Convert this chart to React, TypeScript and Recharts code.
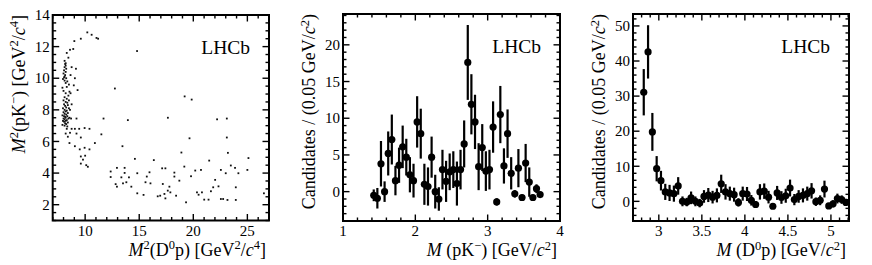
import React from 'react';
import { ScatterChart, Scatter, XAxis, YAxis, ErrorBar, ReferenceArea, Label } from 'recharts';

const FONT = "'Liberation Serif', 'DejaVu Serif', serif";

// Left panel: Dalitz plot, [M2(D0p), M2(pK-)] in GeV2/c4
const DALITZ_POINTS: [number, number][] = [
  // upper arc
  [8.6, 11.8], [8.9, 11.85], [8.3, 11.6], [9.0, 12.35], [9.6, 12.5], [10.2, 12.9], [10.6, 12.75],
  [11.05, 12.55], [11.2, 12.5], [8.45, 11.3], [8.1, 11.1], [8.2, 10.95],
  // dense column
  [8.15, 10.9], [8.2, 10.8], [8.1, 10.7], [8.25, 10.6], [8.05, 10.5], [8.2, 10.4], [8.0, 10.3],
  [8.15, 10.2], [8.1, 10.1], [8.05, 10.05], [8.25, 10.0], [7.95, 9.95], [8.1, 9.85], [8.35, 9.8],
  [8.2, 9.7], [8.75, 10.7], [9.15, 10.6], [8.65, 10.2], [9.05, 10.0], [8.5, 9.6], [8.95, 9.55],
  [9.3, 9.25], [8.3, 9.45], [7.9, 9.4], [8.2, 9.05], [8.55, 9.15], [8.0, 9.2], [8.45, 8.9],
  [8.1, 8.8], [8.3, 8.7], [8.0, 8.6], [8.2, 8.5], [8.35, 8.45], [8.05, 8.35], [8.4, 8.3],
  [8.15, 8.25], [8.25, 8.15], [7.95, 8.1], [8.5, 8.1], [8.1, 8.0], [8.3, 7.95], [8.2, 7.9],
  [8.0, 7.85], [8.4, 7.8], [8.1, 7.75], [8.25, 7.7], [7.9, 7.65], [8.05, 7.6], [8.35, 7.6],
  [8.15, 7.55], [8.2, 7.5], [8.0, 7.45], [8.45, 7.45], [8.1, 7.4], [8.3, 7.35], [7.95, 7.3],
  [8.2, 7.3], [8.05, 7.25], [8.4, 7.2], [8.15, 7.15], [8.25, 7.1], [7.9, 7.05], [8.1, 7.0],
  [8.35, 6.95], [8.55, 7.5], [8.7, 7.45], [9.2, 7.45], [8.6, 8.0], [8.75, 8.35], [8.5, 8.6],
  [8.65, 9.05],
  // lower part of the column
  [8.3, 6.8], [8.75, 6.8], [9.05, 6.8], [9.45, 6.8], [9.95, 6.85], [10.4, 6.8], [8.2, 6.5],
  [8.6, 6.55], [9.2, 6.5], [9.6, 6.25], [8.4, 6.3], [8.55, 5.9], [9.05, 5.7], [9.5, 5.5],
  [9.95, 5.6], [10.4, 5.5], [10.9, 5.9], [9.6, 5.05], [10.0, 5.1], [9.8, 4.85], [9.6, 4.6],
  [10.1, 4.5], [10.25, 4.4], [11.5, 6.45], [11.7, 7.45],
  // sparse middle
  [12.75, 9.35], [14.8, 11.72], [13.95, 7.35], [17.65, 7.5], [19.2, 8.85], [19.85, 8.65],
  [19.65, 6.2], [22.2, 7.4], [23.1, 7.45], [23.1, 6.25], [13.45, 5.7], [14.6, 4.9], [16.35, 4.82],
  [18.9, 5.3], [23.2, 5.28], [25.1, 4.95],
  // lower band
  [12.36, 4.1], [12.36, 3.75], [12.94, 4.33], [12.82, 3.3], [12.94, 3.14], [13.35, 3.73],
  [13.65, 4.01], [13.65, 4.33], [13.81, 3.42], [14.05, 3.73], [14.27, 3.14], [13.5, 3.35],
  [14.82, 3.99], [14.82, 2.72], [15.4, 2.62], [15.58, 3.42], [15.7, 3.78], [15.95, 4.05],
  [16.04, 3.35], [16.71, 2.53], [16.94, 2.57], [17.12, 4.3], [17.18, 3.31], [17.33, 2.68],
  [17.42, 4.3], [17.42, 2.4], [17.64, 2.89], [17.79, 3.14], [17.88, 2.78], [18.25, 4.03],
  [18.25, 3.78], [18.41, 2.57], [18.71, 3.52], [19.17, 4.41], [19.33, 2.15], [19.79, 3.8],
  [20.18, 4.16], [20.34, 2.78], [20.49, 2.63], [20.71, 4.2], [20.8, 2.78], [21.01, 2.32],
  [21.41, 2.32], [21.47, 4.79], [21.63, 2.85], [21.84, 3.1], [22.02, 3.57], [22.33, 3.16],
  [22.55, 4.2], [22.55, 2.36], [22.76, 2.36], [23.0, 3.99], [23.16, 2.3], [23.47, 4.48],
  [23.86, 4.33], [23.93, 2.3], [23.93, 3.1], [24.17, 3.99], [25.0, 4.2], [26.53, 2.72],
];

// Middle panel: M(pK-) bins [GeV/c2]
const PK_MASS = [
  1.425, 1.475, 1.525, 1.575, 1.625, 1.675, 1.725, 1.775, 1.825, 1.875, 1.925, 1.975,
  2.025, 2.075, 2.125, 2.175, 2.225, 2.275, 2.325, 2.375, 2.425, 2.475, 2.525, 2.575,
  2.625, 2.675, 2.725, 2.775, 2.825, 2.875, 2.925, 2.975, 3.025, 3.075, 3.125, 3.175,
  3.225, 3.275, 3.325, 3.375, 3.425, 3.475, 3.525, 3.575, 3.625, 3.675, 3.725,
];
const PK_COUNTS = [
  -0.5, -0.9, 3.8, 0.0, 5.2, 7.1, 1.5, 3.6, 6.1, 4.7, 2.3, 1.5,
  9.5, 7.9, 1.0, 0.7, 4.7, 0.0, -1.0, 3.0, 1.4, 2.7, 3.0, 1.1,
  3.0, 6.5, 17.6, 11.9, 9.5, 3.4, 6.0, 2.8, 3.0, 8.8, -1.4, 10.5,
  3.5, 7.9, 2.5, -0.3, 3.2, -0.8, 3.9, 1.3, -0.8, 0.4, -0.4,
];
const PK_ERRORS = [
  0.8, 1.4, 3.1, 1.4, 3.0, 3.4, 2.0, 2.4, 2.9, 2.5, 2.4, 2.3,
  3.5, 3.4, 2.8, 2.6, 2.8, 2.3, 1.6, 2.7, 2.8, 2.5, 2.5, 3.0,
  2.7, 3.2, 5.1, 4.1, 3.7, 3.2, 3.2, 2.7, 2.7, 3.5, 0.5, 3.9,
  2.4, 3.3, 2.2, 0.5, 2.6, 0.4, 2.6, 2.0, 0.4, 0.6, 0.4,
];

// Right panel: M(D0p) bins [GeV/c2]
const D0P_MASS = [
  2.825, 2.875, 2.925, 2.975, 3.025, 3.075, 3.125, 3.175, 3.225, 3.275, 3.325, 3.375,
  3.425, 3.475, 3.525, 3.575, 3.625, 3.675, 3.725, 3.775, 3.825, 3.875, 3.925, 3.975,
  4.025, 4.075, 4.125, 4.175, 4.225, 4.275, 4.325, 4.375, 4.425, 4.475, 4.525, 4.575,
  4.625, 4.675, 4.725, 4.775, 4.825, 4.875, 4.925, 4.975, 5.025, 5.075, 5.125, 5.175,
];
const D0P_COUNTS = [
  31.1, 42.6, 19.8, 9.3, 5.9, 2.7, 2.4, 2.2, 4.4, 0.0, -0.2, 1.0,
  0.0, -0.5, 1.4, 1.8, 1.2, 1.7, 5.0, 2.7, 2.2, 1.9, -0.3, 2.2,
  2.1, 0.3, -0.9, 2.7, 2.9, 1.2, -1.4, 2.4, 1.1, 1.6, 3.8, 0.5,
  1.4, 1.7, 2.2, 3.0, -0.1, 0.3, 3.5, -1.3, -0.7, 0.8, 0.5, -0.3,
];
const D0P_ERRORS = [
  6.6, 7.6, 5.4, 3.6, 2.8, 2.3, 2.3, 2.3, 2.5, 1.4, 1.2, 1.8,
  1.4, 1.2, 1.8, 2.0, 1.8, 2.0, 2.6, 2.2, 2.0, 2.0, 1.2, 2.0,
  2.0, 1.5, 1.0, 2.2, 2.2, 1.8, 0.8, 2.0, 1.8, 2.0, 2.4, 1.6,
  1.8, 2.0, 2.0, 2.2, 1.2, 1.4, 2.4, 0.8, 1.0, 1.4, 1.2, 1.0,
];

// tick labels
const P1_X_MAJOR = [10, 15, 20, 25];
const P1_Y_MAJOR = [2, 4, 6, 8, 10, 12, 14];
const P2_X_MAJOR = [1, 2, 3, 4];
const P2_Y_MAJOR = [0, 5, 10, 15, 20];
const P3_X_MAJOR = [3, 3.5, 4, 4.5, 5];
const P3_Y_MAJOR = [0, 10, 20, 30, 40, 50];

const steps = (from: number, to: number, step: number) => {
  const out: number[] = [];
  for (let v = from; v <= to + 1e-9; v += step) out.push(Math.round(v * 1000) / 1000);
  return out;
};
const merge = (a: number[], b: number[]) =>
  Array.from(new Set([...a, ...b])).sort((p, q) => p - q);
const isMajor = (majors: number[], v: number) => majors.some((m) => Math.abs(m - v) < 1e-6);

// title pieces: [text, kind] with kind '' normal, 'i' italic, 's' superscript
const rich = (parts: [string, string][]) => {
  let shift = 0;
  return parts.map(([t, k], i) => {
    const sup = k.includes('s');
    const target = sup ? -6.5 : 0;
    const dy = target - shift;
    shift = target;
    return (
      <tspan
        key={i}
        dy={dy !== 0 ? dy : undefined}
        fontSize={sup ? 12.5 : undefined}
        fontStyle={k.includes('i') ? 'italic' : undefined}
      >
        {t}
      </tspan>
    );
  });
};

type PanelProps = {
  width: number;
  margin: { top: number; right: number; bottom: number; left: number };
  xDomain: [number, number];
  yDomain: [number, number];
  xMajor: number[];
  xMinor: number[];
  yMajor: number[];
  yMinor: number[];
  data: { x: number; y: number; err?: number }[];
  histogram: boolean;
  xTitle: [string, string][];
  yTitle: [string, string][];
};

const HEIGHT = 265;
const Y_AXIS_W = 40;
const X_AXIS_H = 30;

const Panel: React.FC<PanelProps> = ({
  width, margin, xDomain, yDomain, xMajor, xMinor, yMajor, yMinor, data, histogram, xTitle, yTitle,
}) => {
  const plotW = width - margin.left - margin.right - Y_AXIS_W;
  const plotH = HEIGHT - margin.top - margin.bottom - X_AXIS_H;

  const xTick = (p: any) => {
    const { x, y, payload } = p;
    const major = isMajor(xMajor, payload.value);
    const len = major ? 6.5 : 3.5;
    return (
      <g>
        <line x1={x} y1={y} x2={x} y2={y - len} stroke="#000" strokeWidth={1.4} />
        <line x1={x} y1={y - plotH} x2={x} y2={y - plotH + len} stroke="#000" strokeWidth={1.4} />
        {major && (
          <text x={x} y={y + 15} textAnchor="middle" style={{ fontFamily: FONT, fontSize: 15 }} fill="#000">
            {payload.value}
          </text>
        )}
      </g>
    );
  };

  const yTick = (p: any) => {
    const { x, y, payload } = p;
    const major = isMajor(yMajor, payload.value);
    const len = major ? 6.5 : 3.5;
    return (
      <g>
        <line x1={x} y1={y} x2={x + len} y2={y} stroke="#000" strokeWidth={1.4} />
        <line x1={x + plotW} y1={y} x2={x + plotW - len} y2={y} stroke="#000" strokeWidth={1.4} />
        {major && (
          <text x={x - 3} y={y} dy="0.35em" textAnchor="end" style={{ fontFamily: FONT, fontSize: 15 }} fill="#000">
            {payload.value}
          </text>
        )}
      </g>
    );
  };

  const texts = (p: any) => {
    const { x, y, width: w, height: h } = p.viewBox;
    return (
      <g fill="#000">
        <text x={x + w - 19} y={y + 39} textAnchor="end" style={{ fontFamily: FONT, fontSize: 19.5 }}>
          LHCb
        </text>
        <text x={x + w - 3} y={y + h + 35} textAnchor="end" style={{ fontFamily: FONT, fontSize: 18 }}>
          {rich(xTitle)}
        </text>
        <text
          transform={`translate(${x - 28},${y}) rotate(-90)`}
          textAnchor="end"
          style={{ fontFamily: FONT, fontSize: 18 }}
        >
          {rich(yTitle)}
        </text>
      </g>
    );
  };

  return (
    <ScatterChart width={width} height={HEIGHT} margin={margin}>
      <XAxis
        type="number"
        dataKey="x"
        domain={xDomain}
        allowDataOverflow
        ticks={merge(xMajor, xMinor)}
        interval={0}
        height={X_AXIS_H}
        axisLine={false}
        tickLine={false}
        tickSize={0}
        tickMargin={0}
        tick={xTick}
      />
      <YAxis
        type="number"
        dataKey="y"
        domain={yDomain}
        allowDataOverflow
        ticks={merge(yMajor, yMinor)}
        interval={0}
        width={Y_AXIS_W}
        axisLine={false}
        tickLine={false}
        tickSize={0}
        tickMargin={0}
        tick={yTick}
      />
      {histogram ? (
        <Scatter
          data={data}
          isAnimationActive={false}
          shape={(s: any) => <circle cx={s.cx} cy={s.cy} r={3.6} fill="#000" />}
        >
          <ErrorBar dataKey="err" direction="y" width={0} stroke="#000" strokeWidth={2.2} />
        </Scatter>
      ) : (
        <Scatter
          data={data}
          isAnimationActive={false}
          shape={(s: any) => <rect x={s.cx - 0.9} y={s.cy - 0.9} width={1.8} height={1.8} fill="#111" />}
        />
      )}
      <ReferenceArea
        x1={xDomain[0]}
        x2={xDomain[1]}
        y1={yDomain[0]}
        y2={yDomain[1]}
        fill="none"
        stroke="#000"
        strokeWidth={2}
        ifOverflow="visible"
      >
        <Label content={texts} />
      </ReferenceArea>
    </ScatterChart>
  );
};

const dalitzData = DALITZ_POINTS.map(([x, y]) => ({ x, y }));
const pkData = PK_MASS.map((x, i) => ({ x, y: PK_COUNTS[i], err: PK_ERRORS[i] }));
const d0pData = D0P_MASS.map((x, i) => ({ x, y: D0P_COUNTS[i], err: D0P_ERRORS[i] }));

const App: React.FC = () => (
  <div style={{ position: 'absolute', left: 0, top: 0, width: 872, height: 265, background: '#fff' }}>
    <div style={{ position: 'absolute', left: 0, top: 0 }}>
      <Panel
        width={290}
        margin={{ top: 15, right: 21, bottom: 14.5, left: 12.7 }}
        xDomain={[7, 27]}
        yDomain={[1, 14]}
        xMajor={P1_X_MAJOR}
        xMinor={steps(7, 27, 1)}
        yMajor={P1_Y_MAJOR}
        yMinor={steps(1, 14, 0.5)}
        data={dalitzData}
        histogram={false}
        xTitle={[['M', 'i'], ['2', 's'], ['(D', ''], ['0', 's'], ['p) [GeV', ''], ['2', 's'], ['/', ''], ['c', 'i'], ['4', 's'], [']', '']]}
        yTitle={[['M', 'i'], ['2', 's'], ['(pK', ''], ['\u2212', 's'], [') [GeV', ''], ['2', 's'], ['/', ''], ['c', 'i'], ['4', 's'], [']', '']]}
      />
    </div>
    <div style={{ position: 'absolute', left: 290, top: 0 }}>
      <Panel
        width={290}
        margin={{ top: 14, right: 20, bottom: 14, left: 13 }}
        xDomain={[1, 4]}
        yDomain={[-4, 24.2]}
        xMajor={P2_X_MAJOR}
        xMinor={steps(1, 4, 0.2)}
        yMajor={P2_Y_MAJOR}
        yMinor={steps(-4, 24, 1)}
        data={pkData}
        histogram
        xTitle={[['M', 'i'], ['\u00a0(pK', ''], ['\u2212', 's'], [') [GeV/', ''], ['c', 'i'], ['2', 's'], [']', '']]}
        yTitle={[['Candidates / (0.05 GeV/', ''], ['c', 'i'], ['2', 's'], [')', '']]}
      />
    </div>
    <div style={{ position: 'absolute', left: 580, top: 0 }}>
      <Panel
        width={292}
        margin={{ top: 14, right: 23, bottom: 14, left: 13 }}
        xDomain={[2.7, 5.21]}
        yDomain={[-5.6, 53.4]}
        xMajor={P3_X_MAJOR}
        xMinor={steps(2.7, 5.2, 0.1)}
        yMajor={P3_Y_MAJOR}
        yMinor={steps(-4, 52, 2)}
        data={d0pData}
        histogram
        xTitle={[['M', 'i'], ['\u00a0(D', ''], ['0', 's'], ['p) [GeV/', ''], ['c', 'i'], ['2', 's'], [']', '']]}
        yTitle={[['Candidates / (0.05 GeV/', ''], ['c', 'i'], ['2', 's'], [')', '']]}
      />
    </div>
  </div>
);

export default App;
